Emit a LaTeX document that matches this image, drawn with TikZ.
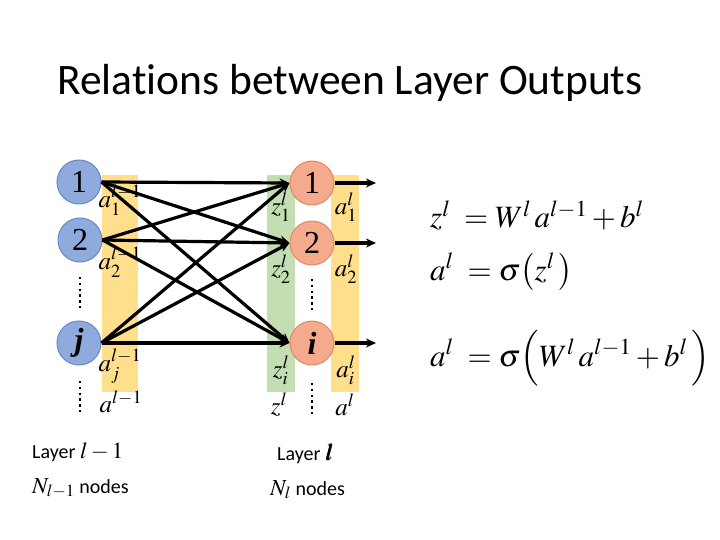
\documentclass[tikz,border=0pt]{standalone}
\usepackage{mathptmx}
\usepackage{bm}
\usepackage{fontspec}
\setmainfont{Carlito}[Ligatures={NoCommon}]
\newfontfamily\numfont{Liberation Serif}
\usetikzlibrary{arrows.meta}
\definecolor{bluefill}{RGB}{143,170,220}
\definecolor{blueline}{RGB}{105,135,200}
\definecolor{orfill}{RGB}{244,170,140}
\definecolor{orline}{RGB}{230,135,100}
\definecolor{yelbar}{RGB}{255,222,140}
\definecolor{grnbar}{RGB}{195,222,178}
\newcommand{\bigmath}[1]{{\fontsize{23}{23}\selectfont$#1$}}
\tikzset{
  neuronL/.style={circle, minimum size=44pt, inner sep=0pt, fill=bluefill, draw=blueline, line width=1pt, font=\numfont\fontsize{32}{32}\selectfont},
  neuronR/.style={circle, minimum size=44pt, inner sep=0pt, fill=orfill, draw=orline, line width=1pt, font=\numfont\fontsize{32}{32}\selectfont},
  conn/.style={line width=3.2pt, -{Stealth[length=10pt,width=9pt]}},
  barlabel/.style={inner sep=0pt, font=\fontsize{25}{25}\selectfont},
  dotline/.style={line width=2.6pt, dash pattern=on 2.4pt off 3.4pt},
  plaintext/.style={inner sep=0pt, anchor=base west, font=\fontsize{20}{20}\selectfont},
  formula/.style={inner sep=0pt, anchor=base west, font=\fontsize{31}{31}\selectfont}
}
\begin{document}
\begin{tikzpicture}[x=1pt,y=-1pt]
\useasboundingbox (0,0) rectangle (720,540);
% title
\node[inner sep=0pt, anchor=base] (title) at (350,95) {\fontsize{43.5}{43.5}\selectfont Relations between Layer Outputs};
% bars
\fill[yelbar] (102,175) rectangle (138,392);
\fill[grnbar] (267,175) rectangle (295,392);
\fill[yelbar] (331,175) rectangle (359,392);
% bar labels
\node[barlabel] (a1) at (120,200) {$a_1^{l-1}$};
\node[barlabel] (a2) at (120,262) {$a_2^{l-1}$};
\node[barlabel] (aj) at (120,366) {$a_j^{l-1}$};
\node[barlabel] (aall) at (121,402) {$a^{l-1}$};
\node[barlabel] (z1) at (281,207) {$z_1^{l}$};
\node[barlabel] (z2) at (281,269) {$z_2^{l}$};
\node[barlabel] (zi) at (281,370) {$z_i^{l}$};
\node[barlabel] (zall) at (279,405) {$z^{l}$};
\node[barlabel] (b1) at (346,207) {$a_1^{l}$};
\node[barlabel] (b2) at (346,269) {$a_2^{l}$};
\node[barlabel] (bi) at (346,370) {$a_i^{l}$};
\node[barlabel] (ball) at (345,405) {$a^{l}$};
% dots
\draw[dotline] (80,277) -- (80,311);
\draw[dotline] (80,381) -- (80,413);
\draw[dotline] (312,279) -- (312,311);
\draw[dotline] (312,383) -- (312,415);
% neurons
\node[neuronL] (L1) at (79,182) {1};
\node[neuronL] (L2) at (80,240) {2};
\node[neuronL] (Lj) at (79,343) {\bfseries\itshape j};
\node[neuronR] (R1) at (312,183) {1};
\node[neuronR] (R2) at (312,243) {2};
\node[neuronR] (Ri) at (312,343) {\bfseries\itshape i};
% connections
\foreach \s in {L1,L2,Lj}{
  \foreach \t in {R1,R2,Ri}{
    \draw[conn] (\s.east) -- (\t.west);
  }
}
\coordinate (o1) at (376,183);
\coordinate (o2) at (376,243);
\coordinate (oi) at (376,343);
\draw[conn] (R1.east) -- (o1);
\draw[conn] (R2.east) -- (o2);
\draw[conn] (Ri.east) -- (oi);
% formulas
\node[formula] (f1) at (430,228) {$z^{l}\;=W^{l}\,a^{l-1}+b^{l}$};
\node[formula] (f2) at (430,280) {$a^{l}\;=\sigma\bigl(z^{l}\,\bigr)$};
\node[formula] (f3) at (430,366) {$a^{l}\;=\sigma\Bigl(W^{l}\,a^{l-1}+b^{l}\,\Bigr)$};
% bottom labels
\node[plaintext] (lay1) at (32,458) {Layer \bigmath{l-1}};
\node[plaintext] (n1) at (32,493) {\bigmath{N_{l-1}} nodes};
\node[plaintext] (lay2) at (277,460) {Layer \bigmath{\bm{l}}};
\node[plaintext] (n2) at (270,495) {\bigmath{N_{l}}\ nodes};
\end{tikzpicture}
\end{document}
